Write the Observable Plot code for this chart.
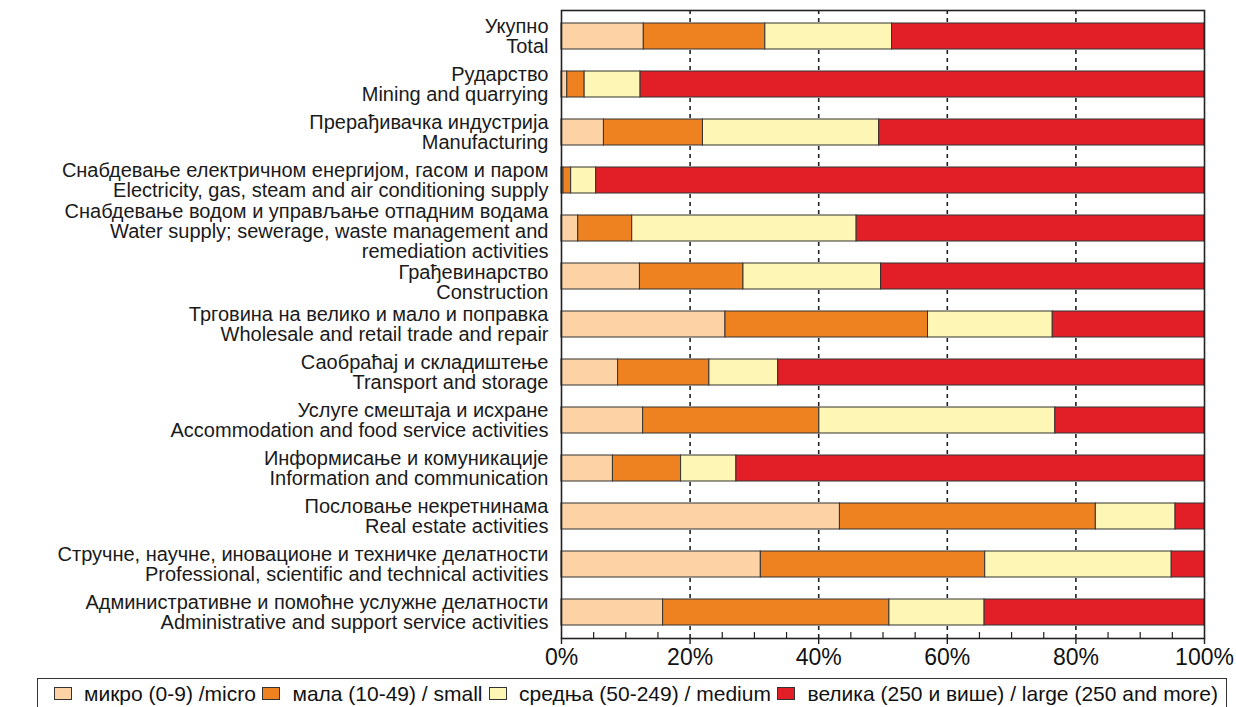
<!DOCTYPE html>
<html>
<head>
<meta charset="utf-8">
<script src="https://cdn.jsdelivr.net/npm/d3@7"></script>
<script src="https://cdn.jsdelivr.net/npm/@observablehq/plot@0.6"></script>
<style>
  body { margin: 0; background: #fff; font-family: "Liberation Sans", Arial, sans-serif; }
  #wrap { position: relative; width: 1236px; height: 707px; overflow: hidden; }
  #chart { position: absolute; left: 0; top: 0; }
  #legend { position: absolute; left: 37px; top: 678px; width: 1190px; height: 30px;
            border: 1.5px solid #333; border-bottom: none; box-sizing: border-box;
            display: flex; justify-content: space-between; align-items: center;
            padding: 0 8px 0 16px; }
  .item { display: flex; align-items: center; font-size: 21px; color: #111; white-space: nowrap; }
  .sw { width: 18px; height: 13px; border: 1.5px solid #333; margin-right: 12px; box-sizing: border-box; }
</style>
</head>
<body>
<div id="wrap">
  <div id="chart"></div>
  <div id="legend"></div>
</div>
<script>
// ---- Data (shares of each size class, %) ----
const categoriesSr = [
  "Укупно",
  "Рударство",
  "Прерађивачка индустрија",
  "Снабдевање електричном енергијом, гасом и паром",
  "Снабдевање водом и управљање отпадним водама",
  "Грађевинарство",
  "Трговина на велико и мало и поправка",
  "Саобраћај и складиштење",
  "Услуге смештаја и исхране",
  "Информисање и комуникације",
  "Пословање некретнинама",
  "Стручне, научне, иновационе и техничке делатности",
  "Административне и помоћне услужне делатности"
];
const categoriesEn = [
  "Total",
  "Mining and quarrying",
  "Manufacturing",
  "Electricity, gas, steam and air conditioning supply",
  "Water supply; sewerage, waste management and\nremediation activities",
  "Construction",
  "Wholesale and retail trade and repair",
  "Transport and storage",
  "Accommodation and food service activities",
  "Information and communication",
  "Real estate activities",
  "Professional, scientific and technical activities",
  "Administrative and support service activities"
];
const sizeClasses = [
  "микро (0-9) /micro",
  "мала (10-49) / small",
  "средња (50-249) / medium",
  "велика (250 и више) / large (250 and more)"
];
const micro  = [12.8, 0.9, 6.6, 0.3, 2.6, 12.2, 25.5, 8.8, 12.7, 8.0, 43.3, 31.0, 15.8];
const small  = [18.9, 2.7, 15.4, 1.2, 8.4, 16.1, 31.5, 14.2, 27.4, 10.6, 39.8, 34.9, 35.2];
const medium = [19.7, 8.7, 27.4, 3.9, 34.9, 21.4, 19.4, 10.7, 36.7, 8.6, 12.4, 29.0, 14.8];
const large  = [48.6, 87.7, 50.6, 94.6, 54.1, 50.3, 23.6, 66.3, 23.2, 72.8, 4.5, 5.1, 34.2];
const xTicks = [0, 20, 40, 60, 80, 100];
const gridTicks = [20, 40, 60, 80];
const minorTicks = [5, 10, 15, 25, 30, 35, 45, 50, 55, 65, 70, 75, 85, 90, 95];
const colors = ["#FDD3A6", "#EE8221", "#FEF6B4", "#E21F26"];

// ---- Build table ----
const labels = categoriesSr.map((s, i) => s + "\n" + categoriesEn[i]);
const series = [micro, small, medium, large];
const data = [];
labels.forEach((lab, i) => {
  series.forEach((arr, k) => data.push({cat: lab, cls: sizeClasses[k], value: arr[i]}));
});
const waterLabel = labels[4];
const constructionLabel = labels[5];
const otherLabels = labels.filter(l => l !== waterLabel && l !== constructionLabel);

const yAxisOpts = {tickSize: 0, tickPadding: 13, fontSize: 20, lineHeight: 1.0, fill: "#1a1a1a", label: null};

const chart = Plot.plot({
  width: 1236,
  height: 672,
  marginLeft: 561,
  marginRight: 32,
  marginTop: 10,
  marginBottom: 34,
  style: {fontFamily: "'Liberation Sans', Arial, sans-serif", color: "#111", background: "#fff"},
  x: {domain: [0, 100], axis: null},
  y: {domain: labels, paddingInner: 0.46, paddingOuter: 0.23, axis: null},
  color: {domain: sizeClasses, range: colors},
  marks: [
    Plot.ruleX(gridTicks, {stroke: "#222", strokeWidth: 1.6, strokeDasharray: "4,4"}),
    Plot.barX(data, Plot.stackX({x: "value", y: "cat", fill: "cls", stroke: "#333", strokeWidth: 1})),
    Plot.frame({stroke: "#222", strokeWidth: 1.6}),
    Plot.axisX(minorTicks, {tickSize: -6, tickFormat: () => "", stroke: "#222", strokeWidth: 1.2, label: null}),
    Plot.axisX(xTicks, {tickSize: 6, tickPadding: 4, tickFormat: d => d + "%", fontSize: 23, stroke: "#222", strokeWidth: 1.4, label: null}),
    Plot.axisY(otherLabels, yAxisOpts),
    Plot.axisY([waterLabel], {...yAxisOpts, dy: 3}),
    Plot.axisY([constructionLabel], {...yAxisOpts, dy: 6.5})
  ]
});
document.getElementById("chart").appendChild(chart);

// ---- Legend ----
const legend = document.getElementById("legend");
sizeClasses.forEach((c, k) => {
  const it = document.createElement("div");
  it.className = "item";
  const sw = document.createElement("span");
  sw.className = "sw";
  sw.style.background = colors[k];
  const tx = document.createElement("span");
  tx.textContent = c;
  it.appendChild(sw); it.appendChild(tx);
  legend.appendChild(it);
});
</script>
</body>
</html>
